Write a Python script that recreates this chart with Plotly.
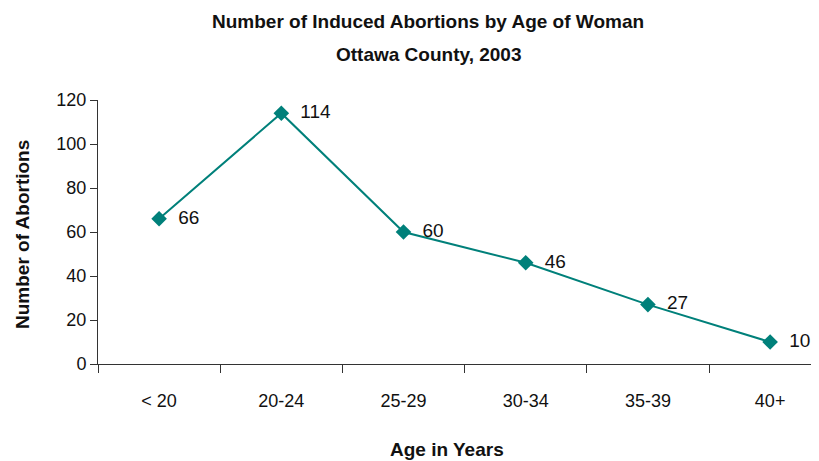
import plotly.graph_objects as go

categories = ["< 20", "20-24", "25-29", "30-34", "35-39", "40+"]
abortions = [66, 114, 60, 46, 27, 10]

FONT = "Liberation Sans Narrow, Arial Narrow, sans-serif"
TEAL = "#00807a"
INK = "#111111"
NBSP = "\u00a0"

fig = go.Figure()
fig.add_trace(go.Scatter(
    x=categories, y=abortions,
    mode="lines+markers+text",
    line=dict(color=TEAL, width=2),
    marker=dict(symbol="diamond", size=12, color=TEAL),
    text=[NBSP * 2 + str(v) for v in abortions],
    textposition="middle right",
    textfont=dict(family=FONT, size=19, color=INK),
    cliponaxis=False,
    showlegend=False,
))

# page has an 8px body margin, so the figure is 8px smaller
fig.update_layout(
    width=811, height=453,
    margin=dict(l=90, r=0, t=92, b=97),
    paper_bgcolor="white", plot_bgcolor="white",
    font=dict(family=FONT, size=18, color=INK),
    xaxis=dict(
        type="category", range=[-0.5, 5.4],
        showline=True, linecolor="#333333", linewidth=1,
        ticks="outside", ticklen=8, tickcolor="#333333",
        tickson="boundaries", ticklabelstandoff=20,
        showgrid=False, zeroline=False, automargin=False,
        tickfont=dict(family=FONT, size=18, color=INK),
    ),
    yaxis=dict(
        range=[0, 120], dtick=20,
        showline=True, linecolor="#333333", linewidth=1,
        ticks="outside", ticklen=7, tickcolor="#333333",
        showgrid=False, zeroline=False, automargin=False,
        tickfont=dict(family=FONT, size=18, color=INK),
    ),
    annotations=[
        dict(text="<b>Number of Induced Abortions by Age of Woman</b>",
             xref="paper", yref="paper", x=0.4577, y=1.2955,
             xanchor="center", yanchor="middle", showarrow=False,
             font=dict(family=FONT, size=19, color=INK)),
        dict(text="<b>Ottawa County, 2003</b>",
             xref="paper", yref="paper", x=0.459, y=1.1705,
             xanchor="center", yanchor="middle", showarrow=False,
             font=dict(family=FONT, size=19, color=INK)),
        dict(text="<b>Age in Years</b>",
             xref="paper", yref="paper", x=0.484, y=-0.322,
             xanchor="center", yanchor="middle", showarrow=False,
             font=dict(family=FONT, size=19, color=INK)),
        dict(text="<b>Number of Abortions</b>", textangle=-90,
             xref="paper", yref="paper", x=-0.1054, y=0.4886,
             xanchor="center", yanchor="middle", showarrow=False,
             font=dict(family=FONT, size=19, color=INK)),
    ],
)

fig.write_html("out.html")
